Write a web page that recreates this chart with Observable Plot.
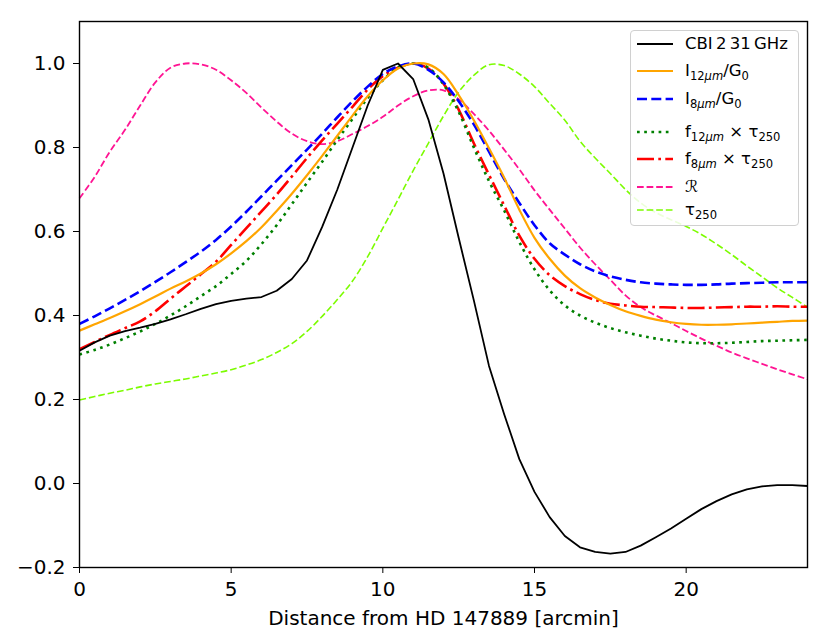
<!DOCTYPE html>
<html>
<head>
<meta charset="utf-8">
<script src="https://cdn.jsdelivr.net/npm/d3@7"></script>
<script src="https://cdn.jsdelivr.net/npm/@observablehq/plot@0.6"></script>
<style>
  html, body { margin: 0; padding: 0; background: #fff; }
  #wrap { position: relative; width: 831px; height: 643px; font-family: "DejaVu Sans", sans-serif; }
  #legend { position: absolute; left: 630px; top: 30px; width: 169px; height: 196px;
    border: 1.3px solid #d0d0d0; border-radius: 4px; background: rgba(255,255,255,0.85); box-sizing: border-box; }
  .row { position: absolute; left: 0; height: 0; }
  .row svg { position: absolute; left: 5px; top: -4px; }
  .row span { position: absolute; left: 54px; top: 0; transform: translateY(-50%); white-space: nowrap; font-size: 16.5px; color: #000; line-height: 1; }
  sub { font-size: 70%; vertical-align: -0.35em; line-height: 0; }
  i { font-style: italic; }
</style>
</head>
<body>
<div id="wrap"><div id="chart"></div><div id="legend"></div></div>
<script>
const distance = [0,0.5,1,1.5,2,2.5,3,3.5,4,4.5,5,5.5,6,6.5,7,7.5,8,8.5,9,9.5,10,10.5,11,11.5,12,12.5,13,13.5,14,14.5,15,15.5,16,16.5,17,17.5,18,18.5,19,19.5,20,20.5,21,21.5,22,22.5,23,23.5,24];

const cbi = [0.316,0.336,0.352,0.363,0.371,0.380,0.391,0.403,0.416,0.427,0.435,0.440,0.444,0.459,0.487,0.531,0.611,0.700,0.800,0.900,0.985,1.000,0.963,0.867,0.738,0.585,0.436,0.280,0.165,0.058,-0.020,-0.080,-0.125,-0.152,-0.163,-0.167,-0.163,-0.148,-0.128,-0.107,-0.084,-0.061,-0.042,-0.026,-0.014,-0.007,-0.004,-0.004,-0.006];

const i12 = [0.364,0.379,0.394,0.410,0.427,0.445,0.464,0.481,0.500,0.522,0.548,0.577,0.610,0.649,0.690,0.734,0.780,0.828,0.876,0.922,0.960,0.988,1.000,0.998,0.975,0.925,0.865,0.798,0.728,0.652,0.585,0.535,0.495,0.465,0.443,0.425,0.410,0.399,0.390,0.384,0.380,0.378,0.378,0.379,0.381,0.383,0.385,0.387,0.388];

const i8 = [0.380,0.398,0.417,0.437,0.458,0.480,0.503,0.527,0.552,0.580,0.612,0.647,0.684,0.721,0.758,0.795,0.833,0.872,0.910,0.945,0.975,0.993,1.000,0.985,0.955,0.910,0.855,0.790,0.725,0.668,0.615,0.572,0.545,0.522,0.505,0.493,0.485,0.479,0.476,0.474,0.473,0.473,0.474,0.476,0.477,0.478,0.479,0.479,0.479];

const f12 = [0.307,0.318,0.331,0.346,0.362,0.380,0.400,0.422,0.446,0.470,0.499,0.530,0.570,0.615,0.665,0.716,0.766,0.818,0.868,0.918,0.960,0.990,1.000,0.990,0.950,0.885,0.800,0.720,0.650,0.575,0.510,0.460,0.424,0.400,0.383,0.370,0.360,0.352,0.345,0.340,0.336,0.334,0.334,0.335,0.337,0.339,0.340,0.341,0.342];

const f8 = [0.320,0.337,0.354,0.370,0.386,0.410,0.440,0.469,0.498,0.528,0.568,0.608,0.648,0.688,0.731,0.775,0.817,0.857,0.897,0.938,0.970,0.990,1.000,0.988,0.952,0.890,0.810,0.735,0.662,0.590,0.535,0.496,0.470,0.451,0.437,0.428,0.424,0.421,0.420,0.419,0.418,0.418,0.419,0.420,0.421,0.421,0.422,0.421,0.421];

const ratioR = [0.679,0.730,0.790,0.842,0.900,0.955,0.990,1.000,0.998,0.985,0.960,0.930,0.895,0.862,0.833,0.815,0.808,0.815,0.832,0.851,0.873,0.900,0.922,0.936,0.936,0.915,0.880,0.840,0.795,0.748,0.698,0.652,0.607,0.562,0.522,0.485,0.448,0.420,0.400,0.382,0.363,0.345,0.328,0.312,0.298,0.285,0.272,0.260,0.248];

const tau250 = [0.199,0.207,0.215,0.222,0.230,0.237,0.243,0.249,0.256,0.263,0.271,0.282,0.295,0.312,0.333,0.362,0.398,0.438,0.482,0.540,0.608,0.676,0.745,0.810,0.875,0.932,0.972,0.997,0.995,0.975,0.945,0.905,0.865,0.815,0.775,0.738,0.700,0.668,0.645,0.628,0.612,0.593,0.570,0.545,0.518,0.492,0.466,0.443,0.420];

const xTicks = [0,5,10,15,20];
const yTicks = [-0.2,0.0,0.2,0.4,0.6,0.8,1.0];

const series = [
  {values: tau250, stroke: "#7CFC00", width: 1.6, dash: "6.7,2.9", curve: "catmull-rom",
   label: "τ<sub>250</sub>"},
  {values: ratioR, stroke: "#FF1493", width: 1.8, dash: "6.7,2.9", curve: "catmull-rom",
   label: "ℛ"},
  {values: f8, stroke: "#FF0000", width: 2.6, dash: "17,4.3,2.7,4.3", curve: "catmull-rom",
   label: "f<sub>8<i>μm</i></sub> × τ<sub>250</sub>"},
  {values: f12, stroke: "#008000", width: 2.6, dash: "2.7,4.5", curve: "catmull-rom",
   label: "f<sub>12<i>μm</i></sub> × τ<sub>250</sub>"},
  {values: i8, stroke: "#0000FF", width: 2.6, dash: "10,4.3", curve: "catmull-rom",
   label: "I<sub>8<i>μm</i></sub>/G<sub>0</sub>"},
  {values: i12, stroke: "#FFA500", width: 2.2, dash: null, curve: "catmull-rom",
   label: "I<sub>12<i>μm</i></sub>/G<sub>0</sub>"},
  {values: cbi, stroke: "#000000", width: 1.8, dash: null, curve: "linear",
   label: "CBI\u20092\u200931\u2009GHz"}
];

const marks = series.map(s => Plot.line(distance.map((d, i) => ({x: d, y: s.values[i]})), {
  x: "x", y: "y", stroke: s.stroke, strokeWidth: s.width,
  strokeDasharray: s.dash == null ? undefined : s.dash, curve: s.curve, strokeLinecap: "butt"
}));

const chart = Plot.plot({
  width: 831, height: 643,
  marginLeft: 79, marginRight: 24, marginTop: 21, marginBottom: 76,
  style: {fontFamily: "DejaVu Sans, sans-serif", fontSize: "20px", color: "#000", background: "#fff"},
  x: {domain: [0, 24]},
  y: {domain: [-0.2, 1.1]},
  marks: [
    ...marks,
    Plot.frame({stroke: "#000", strokeWidth: 1.4}),
    Plot.axisX({ticks: xTicks, tickSize: 6, tickPadding: 8, tickFormat: d3.format("d"),
      label: "Distance from HD 147889 [arcmin]", labelAnchor: "center", labelArrow: "none", labelOffset: 57}),
    Plot.axisY({ticks: yTicks, tickSize: 6, tickPadding: 8, tickFormat: d3.format(".1f"), label: null})
  ]
});
document.getElementById("chart").appendChild(chart);

// legend
const legendOrder = [
  {s: series[6], y: 13}, {s: series[5], y: 40}, {s: series[4], y: 68},
  {s: series[3], y: 101}, {s: series[2], y: 128}, {s: series[1], y: 156}, {s: series[0], y: 179}
];
const legend = document.getElementById("legend");
for (const it of legendOrder) {
  const row = document.createElement("div");
  row.className = "row";
  row.style.top = it.y + "px";
  const s = it.s;
  row.innerHTML = `<svg width="40" height="8"><line x1="1" x2="37" y1="4" y2="4" stroke="${s.stroke}" stroke-width="${s.width}" ${s.dash ? `stroke-dasharray="${s.dash}"` : ""}/></svg><span>${s.label}</span>`;
  legend.appendChild(row);
}
</script>
</body>
</html>
